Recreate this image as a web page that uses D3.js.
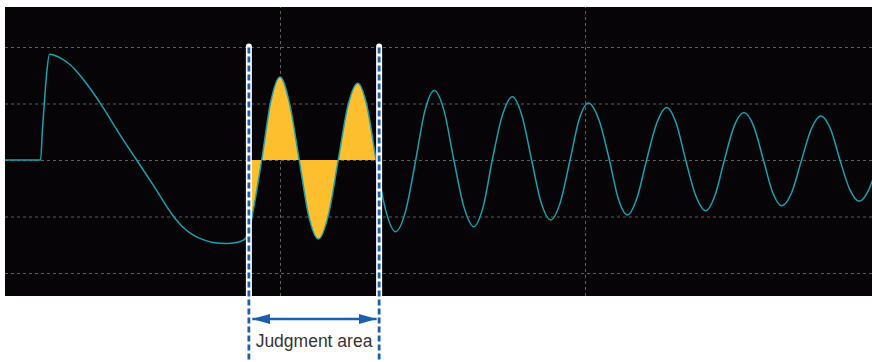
<!DOCTYPE html>
<html>
<head>
<meta charset="utf-8">
<script src="https://cdn.jsdelivr.net/npm/d3@7"></script>
<style>
  html, body { margin: 0; padding: 0; background: #ffffff; }
  svg { display: block; }
</style>
</head>
<body>
<svg id="chart" width="872" height="362"></svg>
<script>
// ---- data (time in ms, amplitude in divisions) ----
const time = [0.98,2.15,2.21,2.28,2.36,2.44,2.62,2.85,3.11,3.44,3.77,4.10,4.75,5.30,5.85,6.50,6.82,7.16,7.48,7.80,8.25,8.56,8.80,
  8.98,9.15,9.40,9.70,10.00,10.31,10.63,10.94,11.26,11.58,11.91,12.23,12.55,12.85,13.15,13.47,13.79,14.12,14.45,14.75,15.06,
  15.38,15.70,16.03,16.35,16.66,16.96,17.29,17.62,17.93,18.25,18.56,18.88,19.19,19.51,19.81,20.11,20.45,20.80,21.09,21.39,
  21.70,22.02,22.35,22.68,22.99,23.30,23.63,23.96,24.26,24.57,24.89,25.21,25.53,25.85,26.15,26.45,26.78,27.10,27.42,27.73,
  28.05,28.36,28.68,28.99,29.31,29.63];
const volts = [0,0,0.53,1.06,1.59,1.87,1.85,1.79,1.69,1.50,1.27,1.01,0.45,0,-0.45,-0.99,-1.19,-1.33,-1.41,-1.46,-1.48,-1.46,-1.42,
  -1.26,-0.81,0,1.04,1.47,1.01,0,-0.99,-1.40,-0.99,0,0.97,1.36,0.96,0,-0.90,-1.27,-0.90,0,0.87,1.23,
  0.87,0,-0.83,-1.18,-0.83,0,0.79,1.12,0.79,0,-0.75,-1.06,-0.75,0,0.72,1.01,0.72,0,-0.68,-0.97,
  -0.68,0,0.65,0.93,0.65,0,-0.63,-0.90,-0.63,0,0.60,0.84,0.60,0,-0.57,-0.81,-0.57,0,0.55,0.78,
  0.55,0,-0.52,-0.73,-0.52,0];
const gridTimes = [10, 20];
const gridVolts = [-2, -1, 0, 1, 2];
const judgment = [8.98, 13.25];
const judgmentLabel = "Judgment area";

const points = time.map((t, i) => ({ t, v: volts[i] }));

// ---- layout ----
const svg = d3.select("#chart");
const plot = { left: 5, top: 7, right: 872, bottom: 296 };

const x = d3.scaleLinear().domain([10, 20]).range([280, 585]);
const y = d3.scaleLinear().domain([-1, 1]).range([216.5, 103.5]);

const defs = svg.append("defs");
defs.append("clipPath").attr("id", "plotClip")
  .append("rect")
  .attr("x", plot.left).attr("y", plot.top)
  .attr("width", plot.right - plot.left).attr("height", plot.bottom - plot.top);
defs.append("clipPath").attr("id", "judgeClip")
  .append("rect")
  .attr("x", x(judgment[0])).attr("y", plot.top)
  .attr("width", x(judgment[1]) - x(judgment[0])).attr("height", plot.bottom - plot.top);

const arrowColor = "#1b5eae";
["arrowEnd", "arrowStart"].forEach((id, k) => {
  defs.append("marker")
    .attr("id", id)
    .attr("viewBox", "0 0 18 10")
    .attr("refX", 18).attr("refY", 5)
    .attr("markerUnits", "userSpaceOnUse")
    .attr("markerWidth", 18).attr("markerHeight", 10)
    .attr("orient", k === 0 ? "auto" : "auto-start-reverse")
    .append("path")
    .attr("d", "M0,0 L18,5 L0,10 Z")
    .attr("fill", arrowColor);
});

// background
svg.append("rect")
  .attr("x", plot.left).attr("y", plot.top)
  .attr("width", plot.right - plot.left).attr("height", plot.bottom - plot.top)
  .attr("fill", "#060407");

// grid via axes
const gridStyle = g => {
  g.select(".domain").remove();
  g.selectAll("text").remove();
  g.selectAll("line")
    .attr("stroke", "#5e5e5e")
    .attr("stroke-width", 1)
    .attr("stroke-dasharray", "3,3");
};
svg.append("g")
  .attr("transform", `translate(0,${plot.bottom})`)
  .call(d3.axisBottom(x).tickValues(gridTimes).tickSize(-(plot.bottom - plot.top)).tickFormat(""))
  .call(gridStyle);
svg.append("g")
  .attr("transform", `translate(${plot.left},0)`)
  .call(d3.axisLeft(y).tickValues(gridVolts).tickSize(-(plot.right - plot.left)).tickFormat(""))
  .call(gridStyle);

// judgment fill
const area = d3.area()
  .x(d => x(d.t))
  .y0(y(0))
  .y1(d => y(d.v))
  .curve(d3.curveMonotoneX);
svg.append("path")
  .datum(points)
  .attr("clip-path", "url(#judgeClip)")
  .attr("d", area)
  .attr("fill", "#fdbf2d");

// waveform
const line = d3.line()
  .x(d => x(d.t))
  .y(d => y(d.v))
  .curve(d3.curveMonotoneX);
svg.append("path")
  .datum(points)
  .attr("clip-path", "url(#plotClip)")
  .attr("d", line)
  .attr("fill", "none")
  .attr("stroke", "#16a2b0")
  .attr("stroke-width", 1.5);

// judgment markers
const markerTop = 46.5;
const mk = svg.append("g");
mk.selectAll("line.white")
  .data(judgment)
  .join("line")
  .attr("class", "white")
  .attr("x1", d => x(d)).attr("x2", d => x(d))
  .attr("y1", markerTop).attr("y2", plot.bottom - 3)
  .attr("stroke", "#ffffff")
  .attr("stroke-width", 6)
  .attr("stroke-linecap", "round");
mk.selectAll("rect.whiteBottom")
  .data(judgment)
  .join("rect")
  .attr("class", "whiteBottom")
  .attr("x", d => x(d) - 3).attr("y", plot.bottom - 4)
  .attr("width", 6).attr("height", 4)
  .attr("fill", "#ffffff");
mk.selectAll("line.blue")
  .data(judgment)
  .join("line")
  .attr("class", "blue")
  .attr("x1", d => x(d)).attr("x2", d => x(d))
  .attr("y1", markerTop + 1).attr("y2", 362)
  .attr("stroke", arrowColor)
  .attr("stroke-width", 2.8)
  .attr("stroke-dasharray", "6,3");

// arrow
const arrowY = 319;
svg.append("line")
  .attr("x1", x(judgment[0]) + 3.5).attr("x2", x(judgment[1]) - 2.5)
  .attr("y1", arrowY).attr("y2", arrowY)
  .attr("stroke", arrowColor)
  .attr("stroke-width", 2.5)
  .attr("marker-end", "url(#arrowEnd)")
  .attr("marker-start", "url(#arrowStart)");

// label
svg.append("text")
  .attr("x", (x(judgment[0]) + x(judgment[1])) / 2)
  .attr("y", 346.5)
  .attr("text-anchor", "middle")
  .attr("font-family", "'Liberation Sans', Arial, sans-serif")
  .attr("font-size", 17.5)
  .attr("fill", "#333333")
  .text(judgmentLabel);
</script>
</body>
</html>
